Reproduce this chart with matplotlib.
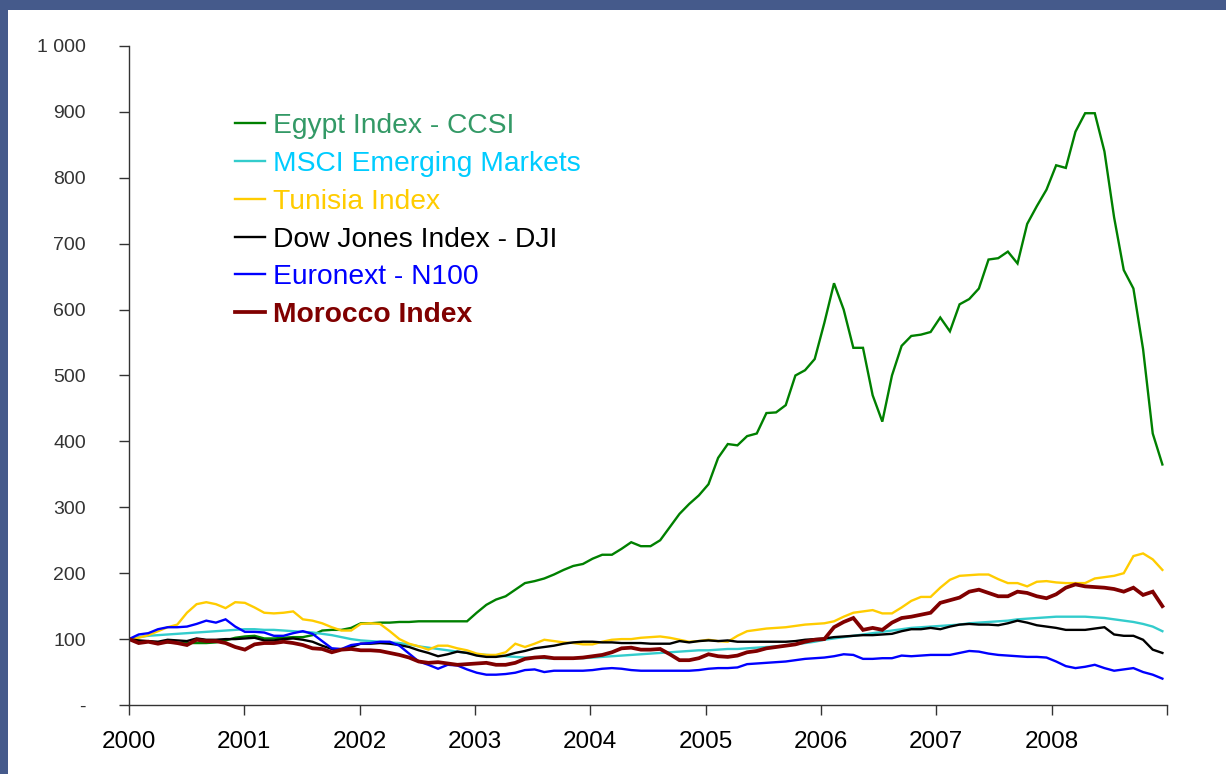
import numpy as np
import matplotlib
matplotlib.use("Agg")
import matplotlib.pyplot as plt
from matplotlib.patches import Rectangle

plt.rcParams['font.family'] = ['Liberation Sans', 'DejaVu Sans']

# Monthly index values (base 100 = Jan 2000), Jan 2000 .. Dec 2008
egypt = [100, 97, 96, 95, 95, 94, 94, 94, 94, 95, 98, 102,
         104, 105, 101, 101, 102, 103, 103, 106, 113, 114, 114, 117,
         124, 124, 125, 125, 126, 126, 127, 127, 127, 127, 127, 127,
         140, 152, 160, 165, 175, 185, 188, 192, 198, 205, 211, 214,
         222, 228, 228, 237, 247, 241, 241, 250, 270, 290, 305, 318,
         335, 375, 396, 394, 408, 412, 443, 444, 455, 500, 508, 525,
         580, 640, 600, 542, 542, 470, 430, 500, 545, 560, 562, 566,
         588, 567, 608, 616, 632, 676, 678, 688, 670, 730, 757, 782,
         819, 815, 870, 898, 898, 840, 740, 660, 632, 540, 412, 365]

msci = [100, 103, 105, 106, 107, 108, 109, 110, 111, 112, 113, 114,
        115, 115, 114, 114, 113, 112, 111, 110, 108, 106, 103, 100,
        98, 97, 96, 95, 94, 92, 89, 87, 85, 83, 81, 79,
        77, 76, 75, 74, 73, 72, 72, 71, 71, 71, 71, 71,
        72, 73, 74, 75, 76, 77, 78, 79, 80, 81, 82, 83,
        83, 84, 85, 85, 86, 87, 88, 89, 90, 92, 94, 96,
        99, 101, 103, 105, 107, 109, 111, 113, 115, 117, 118, 119,
        120, 121, 122, 124, 125, 126, 127, 128, 130, 131, 132, 133,
        134, 134, 134, 134, 133, 132, 130, 128, 126, 123, 119, 112]

tunisia = [100, 102, 106, 112, 118, 122, 140, 153, 156, 153, 147, 156,
           155, 148, 140, 139, 140, 142, 130, 128, 124, 118, 113, 113,
           123, 124, 123, 112, 100, 93, 89, 84, 90, 90, 86, 83,
           78, 76, 76, 80, 93, 88, 93, 99, 97, 95, 94, 92,
           92, 96, 99, 100, 100, 102, 103, 104, 102, 99, 96, 97,
           99, 97, 96, 105, 112, 114, 116, 117, 118, 120, 122, 123,
           124, 127, 134, 140, 142, 144, 139, 139, 148, 158, 164, 164,
           178, 190, 196, 197, 198, 198, 191, 185, 185, 180, 187, 188,
           186, 185, 185, 185, 192, 194, 196, 200, 226, 230, 221, 205]

dow = [100, 98, 97, 96, 99, 98, 97, 101, 99, 99, 100, 100,
       101, 102, 98, 98, 100, 101, 99, 96, 90, 85, 84, 88,
       93, 93, 94, 93, 91, 88, 83, 79, 74, 77, 81, 79,
       75, 73, 73, 75, 79, 82, 86, 88, 90, 93, 95, 96,
       96, 95, 95, 94, 94, 94, 93, 93, 93, 97, 95, 97,
       98, 97, 98, 96, 96, 96, 96, 96, 96, 97, 99, 100,
       101, 103, 104, 105, 106, 106, 107, 108, 112, 115, 115, 117,
       115, 119, 122, 123, 122, 122, 121, 124, 128, 125, 121, 119,
       117, 114, 114, 114, 116, 118, 107, 105, 105, 99, 84, 79]

euronext = [100, 107, 109, 115, 118, 118, 119, 123, 128, 125, 130, 119,
            111, 111, 110, 105, 105, 109, 112, 108, 97, 86, 85, 91,
            93, 94, 96, 96, 90, 78, 66, 61, 55, 61, 60, 54,
            49, 46, 46, 47, 49, 53, 54, 50, 52, 52, 52, 52,
            53, 55, 56, 55, 53, 52, 52, 52, 52, 52, 52, 53,
            55, 56, 56, 57, 62, 63, 64, 65, 66, 68, 70, 71,
            72, 74, 77, 76, 70, 70, 71, 71, 75, 74, 75, 76,
            76, 76, 79, 82, 81, 78, 76, 75, 74, 73, 73, 72,
            66, 59, 56, 58, 61, 56, 52, 54, 56, 50, 46, 40]

morocco = [100, 94, 96, 93, 96, 94, 91, 99, 97, 97, 94, 88,
           84, 92, 94, 94, 96, 94, 91, 86, 85, 80, 84, 85,
           83, 83, 82, 79, 76, 72, 66, 64, 65, 63, 61, 62,
           63, 64, 61, 61, 64, 70, 72, 73, 71, 71, 71, 72,
           74, 76, 80, 86, 87, 84, 84, 85, 77, 68, 68, 71,
           77, 74, 73, 75, 80, 82, 86, 88, 90, 92, 96, 99,
           100, 118, 126, 132, 114, 117, 114, 125, 132, 134, 137, 140,
           155, 159, 163, 172, 175, 170, 165, 165, 172, 170, 165, 162,
           168, 178, 183, 180, 179, 178, 176, 172, 178, 167, 172, 150]

labels = ["Egypt Index - CCSI", "MSCI Emerging Markets", "Tunisia Index",
          "Dow Jones Index - DJI", "Euronext - N100", "Morocco Index"]
years = list(range(2000, 2010))
year_labels = [str(y) for y in range(2000, 2009)] + [""]
y_ticks = [0, 100, 200, 300, 400, 500, 600, 700, 800, 900, 1000]
y_tick_labels = ["-", "100", "200", "300", "400", "500", "600", "700", "800", "900", "1 000"]

line_colors = ["#008000", "#33CCCC", "#FFCC00", "#000000", "#0000FF", "#800000"]
text_colors = ["#339966", "#00CCFF", "#FFCC00", "#000000", "#0000FF", "#800000"]
widths = [1.7, 1.7, 1.7, 1.7, 1.7, 2.7]

n = len(egypt)
x = 2000 + np.arange(n) * (8.96 / (n - 1))

W, H = 1226, 774
fig = plt.figure(figsize=(W / 100, H / 100), dpi=100)
fig.patch.set_facecolor("white")
fig.patches.append(Rectangle((0, 1 - 10 / H), 1, 10 / H, transform=fig.transFigure,
                             facecolor="#455A8B", edgecolor="none", zorder=0))
fig.patches.append(Rectangle((0, 0), 8 / W, 1, transform=fig.transFigure,
                             facecolor="#455A8B", edgecolor="none", zorder=0))

ax = fig.add_axes([129 / W, 1 - 705 / H, (1167 - 129) / W, (705 - 46) / H])
series = [egypt, msci, tunisia, dow, euronext, morocco]
handles = []
for vals, lab, c, lw in zip(series, labels, line_colors, widths):
    h, = ax.plot(x, vals, color=c, lw=lw, label=lab, solid_joinstyle="miter")
    handles.append(h)

ax.set_xlim(2000, 2009)
ax.set_ylim(0, 1000)
ax.set_xticks(years)
ax.set_xticklabels(year_labels, fontsize=17.5, color="black")
ax.set_yticks(y_ticks)
ax.set_yticklabels(y_tick_labels, fontsize=14, color="#333333")
ax.tick_params(axis="y", direction="out", length=7, width=1, color="#333333", pad=24)
ax.tick_params(axis="x", direction="out", length=7, width=1, color="#333333", pad=12)
for s in ["top", "right"]:
    ax.spines[s].set_visible(False)
for s in ["left", "bottom"]:
    ax.spines[s].set_color("#333333")
    ax.spines[s].set_linewidth(1)

leg = ax.legend(handles=handles, loc="upper left",
                bbox_to_anchor=(235 / W, 1 - 113 / H), bbox_transform=fig.transFigure,
                frameon=False, fontsize=20.3, handlelength=1.05, handletextpad=0.3,
                labelspacing=0.42, borderpad=0, borderaxespad=0)
for t, c in zip(leg.get_texts(), text_colors):
    t.set_color(c)
leg.get_texts()[-1].set_fontweight("bold")

fig.savefig("out.png", dpi=100)
